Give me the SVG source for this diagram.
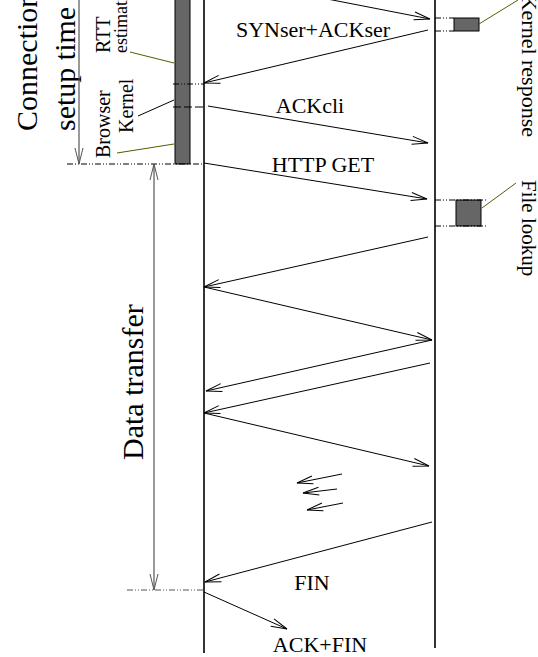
<svg xmlns="http://www.w3.org/2000/svg" width="538" height="657" viewBox="0 0 538 657">
<defs>
<marker id="ah" markerUnits="userSpaceOnUse" markerWidth="20" markerHeight="12" viewBox="-18 -6 20 12" refX="0" refY="0" orient="auto">
<path d="M-16,-4 L0,0 L-16,4" fill="none" stroke="#000" stroke-width="1"/>
</marker>
<marker id="ahg" markerUnits="userSpaceOnUse" markerWidth="20" markerHeight="12" viewBox="-18 -6 20 12" refX="0" refY="0" orient="auto">
<path d="M-16,-4 L0,0 L-16,4" fill="none" stroke="#555" stroke-width="1"/>
</marker>
</defs>
<style>
.t{font-family:"Liberation Serif","Times New Roman",serif;fill:#000}
.msg{stroke:#000;stroke-width:1;fill:none;marker-end:url(#ah)}
.life{stroke:#000;stroke-width:1.6;fill:none}
.dd{stroke:#000;stroke-width:1;stroke-dasharray:6,2,1,2,1,2;fill:none}
.dim{stroke:#555;stroke-width:1.2;fill:none}
.lead{stroke:#5a5a00;stroke-width:1;fill:none}
.box{fill:#666;stroke:#000;stroke-width:1}
</style>
<rect width="538" height="657" fill="#fff"/>

<g id="client-lifeline"><line class="life" x1="204" y1="0" x2="204" y2="653"/></g>
<g id="server-lifeline"><line class="life" x1="435" y1="0" x2="435" y2="648"/></g>

<g id="browser-kernel-bar">
<rect class="box" x="175" y="-2" width="15" height="166"/>
<line class="dd" x1="173" y1="84" x2="204" y2="84"/>
<line x1="173" y1="107" x2="204" y2="107" stroke="#000" stroke-width="1" stroke-dasharray="8,3"/>
<line class="dd" x1="67" y1="164" x2="204" y2="164"/>
</g>

<g id="kernel-response">
<rect class="box" x="454" y="18" width="25" height="13"/>
<line class="dd" x1="435" y1="18" x2="454" y2="18"/>
<line class="dd" x1="435" y1="31" x2="454" y2="31"/>
<line class="lead" x1="479" y1="24" x2="518" y2="0"/>
<text class="t" font-size="22" transform="translate(522,137) rotate(90)" text-anchor="end">Kernel response</text>
</g>

<g id="file-lookup">
<rect class="box" x="456" y="200" width="25" height="26"/>
<line class="dd" x1="435" y1="200" x2="487" y2="200"/>
<line class="dd" x1="435" y1="226" x2="487" y2="226"/>
<line class="lead" x1="482" y1="208" x2="516" y2="183"/>
<text class="t" font-size="21" transform="translate(522,180) rotate(90)">File lookup</text>
</g>

<g id="labels-left">
<text class="t" font-size="30" transform="translate(37,131) rotate(-90)">Connection</text>
<text class="t" font-size="30" transform="translate(75,131) rotate(-90)">setup time</text>
<text class="t" font-size="20" transform="translate(110,53) rotate(-90)">RTT</text>
<text class="t" font-size="18" transform="translate(127,53) rotate(-90)">estimation</text>
<text class="t" font-size="20" transform="translate(110,158) rotate(-90)">Browser</text>
<text class="t" font-size="20" transform="translate(133,133) rotate(-90)">Kernel</text>
<line class="lead" x1="130" y1="52" x2="174" y2="63"/>
<line x1="138" y1="116" x2="174" y2="100" stroke="#000" stroke-width="1"/>
<line class="lead" x1="117" y1="153" x2="174" y2="144"/>
<text class="t" font-size="30" transform="translate(143,460) rotate(-90)">Data transfer</text>
</g>

<g id="dimensions">
<line class="dim" x1="79" y1="-20" x2="79" y2="164" marker-end="url(#ahg)"/>
<line class="dim" x1="154" y1="377" x2="154" y2="164" marker-end="url(#ahg)"/>
<line class="dim" x1="154" y1="377" x2="154" y2="590" marker-end="url(#ahg)"/>
<line x1="127" y1="590" x2="204" y2="590" stroke="#555" stroke-width="1" stroke-dasharray="6,2,1,2,1,2"/>
</g>

<g id="connectors">
<line class="msg" x1="204" y1="-25" x2="430" y2="19"/>
<line class="msg" x1="428" y1="30" x2="204" y2="83"/>
<line class="msg" x1="208" y1="106" x2="428" y2="143"/>
<line class="msg" x1="204" y1="163" x2="427" y2="199"/>
<line class="msg" x1="428" y1="237" x2="204" y2="287"/>
<line class="msg" x1="204" y1="287" x2="432" y2="340"/>
<line class="msg" x1="432" y1="340" x2="206" y2="391"/>
<line class="msg" x1="430" y1="363" x2="204" y2="413"/>
<line class="msg" x1="204" y1="413" x2="429" y2="466"/>
<line class="msg" x1="342" y1="474" x2="297" y2="483"/>
<line class="msg" x1="337" y1="489" x2="303" y2="493"/>
<line class="msg" x1="343" y1="503" x2="307" y2="510"/>
<line class="msg" x1="432" y1="522" x2="205" y2="582"/>
<line class="msg" x1="204" y1="592" x2="287" y2="629"/>
</g>

<g id="message-labels">
<text class="t" font-size="22" x="313" y="37" text-anchor="middle">SYNser+ACKser</text>
<text class="t" font-size="22" x="310" y="113" text-anchor="middle">ACKcli</text>
<text class="t" font-size="22" x="323" y="172" text-anchor="middle">HTTP GET</text>
<text class="t" font-size="22" x="312" y="590" text-anchor="middle">FIN</text>
<text class="t" font-size="22" x="320" y="652" text-anchor="middle">ACK+FIN</text>
</g>
</svg>
